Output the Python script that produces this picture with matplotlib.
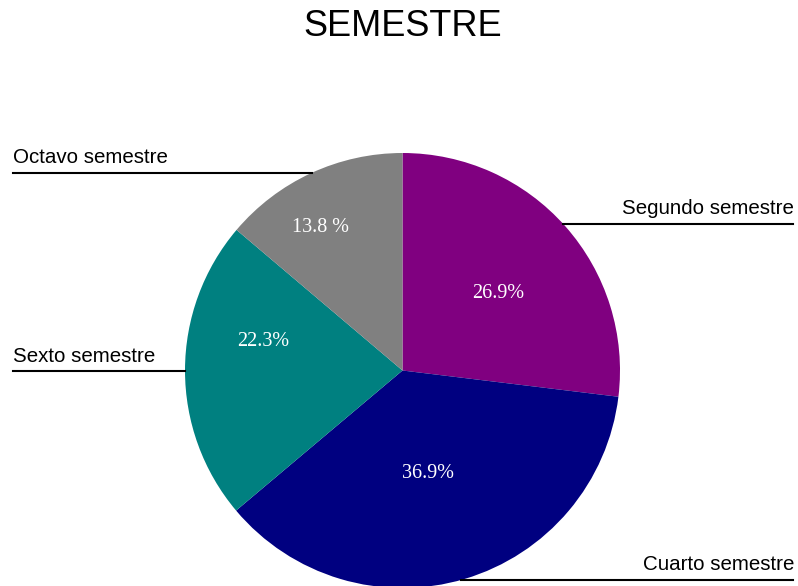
import matplotlib.pyplot as plt
import numpy as np

# datos
categorias = ["Segundo semestre", "Cuarto semestre", "Sexto semestre", "Octavo semestre"]
porcentajes = [26.9, 36.9, 22.3, 13.8]
etiquetas_pct = ["26.9%", "36.9%", "22.3%", "13.8 %"]
colores = ["#800080", "#000080", "#008080", "#808080"]

W, H = 798, 586
cx, cy, r = 402.5, 370.5, 217.5   # en pixeles (y hacia abajo)


def py(y):
    # pixel y (desde arriba) -> coordenada de datos
    return H - y


fig = plt.figure(figsize=(W / 100, H / 100), dpi=100)
ax = fig.add_axes([0, 0, 1, 1])

wedges, textos = ax.pie(porcentajes, colors=colores, startangle=90, counterclock=False,
                        center=(cx, py(cy)), radius=r, frame=True,
                        wedgeprops=dict(linewidth=0))
ax.set_xlim(0, W)
ax.set_ylim(0, H)
ax.set_aspect("equal")
ax.axis("off")

# porcentajes dentro de cada sector
pos_pct = [(498, 294), (428, 473), (263, 342), (320, 227)]
for txt, (x, y), c in zip(etiquetas_pct, pos_pct, colores):
    ax.text(x, py(y), txt, ha="center", va="center", color="white",
            fontsize=14.5, family="Liberation Serif",
            bbox=dict(facecolor=c, edgecolor="none", pad=6))

# etiquetas con lineas horizontales
lineas = {
    "Segundo semestre": (224, "right"),
    "Cuarto semestre": (580, "right"),
    "Sexto semestre": (371, "left"),
    "Octavo semestre": (172.5, "left"),
}
for nombre in categorias:
    yl, lado = lineas[nombre]
    dx = np.sqrt(max(r ** 2 - (yl - cy) ** 2, 0))
    if lado == "right":
        x0, x1 = cx + dx, 793
        ax.plot([x0, x1], [py(yl), py(yl)], color="black", lw=1.5)
        ax.text(x1 + 1, py(yl - 15), nombre, ha="right", va="center",
                fontsize=14.8, family="Liberation Sans")
    else:
        x0, x1 = 13, cx - dx
        ax.plot([x0, x1], [py(yl), py(yl)], color="black", lw=1.5)
        ax.text(x0, py(yl - 15), nombre, ha="left", va="center",
                fontsize=14.8, family="Liberation Sans")

ax.text(W / 2 + 4, py(27), "SEMESTRE", ha="center", va="center",
        fontsize=26, family="Liberation Sans")

plt.savefig("out.png", dpi=100)
